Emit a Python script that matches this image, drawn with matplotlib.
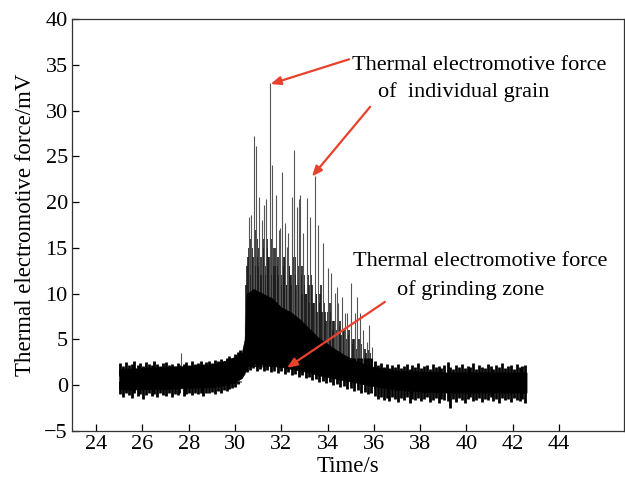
import numpy as np
import matplotlib.pyplot as plt

plt.rcParams['font.family'] = ['Liberation Serif', 'DejaVu Serif']

# 噪声带的包络
t_env = [25.0, 25.5, 26.0, 27.0, 28.0, 29.0, 29.5, 30.0, 30.3, 30.42, 30.5, 30.8,
         31.2, 31.6, 32.0, 32.4, 32.8, 33.2, 33.6, 34.0, 34.4, 34.8, 35.2, 35.6,
         36.0, 36.5, 37.0, 38.0, 39.0, 40.0, 41.0, 42.0, 42.6]
core_lo = [-0.4, -0.5, -0.4, -0.4, -0.3, -0.2, 0.0, 0.3, 0.8, 1.3, 2.0, 2.4,
           2.3, 2.2, 2.0, 1.8, 1.6, 1.4, 1.1, 0.9, 0.7, 0.5, 0.3, 0.1,
           -0.1, -0.3, -0.5, -0.7, -0.8, -0.8, -0.8, -0.8, -0.8]
core_hi = [1.8, 1.8, 1.9, 2.0, 2.1, 2.3, 2.6, 3.1, 3.6, 5.0, 10.0, 10.5,
           10.0, 9.5, 8.5, 8.0, 7.2, 6.2, 5.2, 4.5, 3.8, 3.2, 2.7, 2.3,
           2.0, 1.8, 1.6, 1.5, 1.4, 1.4, 1.4, 1.4, 1.4]

# 单颗磨粒的尖峰 (时间, 峰值)
spike_t = [30.44, 30.61, 30.70, 30.82, 30.91, 31.04, 31.17, 31.26, 31.34, 31.52,
           31.60, 31.78, 31.91, 31.95, 32.03, 32.16, 32.25, 32.29, 32.47, 32.55,
           32.68, 32.77, 32.81, 32.94, 33.11, 33.24, 33.46, 33.59, 33.81, 34.02,
           34.15, 34.32, 34.41, 34.45, 34.63, 34.76, 34.84, 35.02, 35.19, 35.27,
           35.40, 35.53, 35.71, 35.79, 35.92, 27.67, 39.21]
spike_v = [7.4, 18.4, 18.6, 27.2, 26.1, 20.6, 18.1, 19.7, 20.3, 33.0,
           24.1, 20.8, 17.0, 17.2, 23.3, 17.7, 15.1, 16.6, 20.6, 25.7,
           19.5, 20.3, 20.8, 16.6, 20.5, 18.4, 22.8, 17.5, 15.5, 12.8,
           12.3, 10.1, 10.7, 9.0, 9.6, 7.9, 7.9, 11.2, 7.9, 9.6,
           7.9, 6.0, 4.7, 6.6, 4.2, 3.5, 2.5]

# 密集的中等尖峰
mid_t = [30.47, 30.53, 30.55, 30.59, 30.64, 30.65, 30.68, 30.73, 30.75, 30.78,
         30.85, 30.87, 30.89, 30.94, 30.97, 31.00, 31.06, 31.08, 31.10, 31.12,
         31.15, 31.20, 31.22, 31.24, 31.29, 31.30, 31.37, 31.40, 31.42, 31.45,
         31.48, 31.55, 31.56, 31.63, 31.66, 31.68, 31.72, 31.75, 31.81, 31.85,
         31.87, 31.93, 31.98, 32.00, 32.06, 32.10, 32.13, 32.18, 32.20, 32.23,
         32.32, 32.35, 32.38, 32.42, 32.44, 32.51, 32.58, 32.60, 32.64, 32.71,
         32.73, 32.79, 32.85, 32.88, 32.91, 32.97, 33.00, 33.05, 33.08, 33.14,
         33.18, 33.21, 33.27, 33.30, 33.34, 33.38, 33.42, 33.49, 33.52, 33.56,
         33.62, 33.65, 33.69, 33.72, 33.77, 33.84, 33.90, 33.93, 34.00, 34.07,
         34.10, 34.13, 34.19, 34.22, 34.27, 34.35, 34.50, 34.55, 34.60, 34.68,
         34.70, 34.80, 34.90, 34.95, 35.05, 35.10, 35.15, 35.25, 35.35, 35.45,
         35.60, 35.65, 35.75, 35.85]
mid_v = [11, 13, 14, 15, 12, 12, 16, 13, 15, 14,
         12, 13, 17, 14, 16, 13, 15, 14, 12, 12,
         14, 16, 15, 13, 12, 13, 15, 16, 13, 14,
         14, 16, 12, 13, 15, 12, 13, 15, 13, 14,
         12, 14, 11, 12, 13, 14, 12, 14, 11, 11,
         13, 13, 12, 12, 11, 14, 12, 14, 11, 13,
         11, 10, 12, 13, 10, 11, 12, 10, 10, 12,
         11, 9, 10, 12, 11, 9, 9, 10, 10, 8,
         9, 9, 10, 11, 8, 9, 8, 7, 8, 7,
         9, 8, 6, 7, 7, 6, 6.5, 7, 5.5, 6,
         6, 5, 5.5, 6, 4.5, 5, 5, 4, 5, 4.5,
         4, 3.5, 3.8, 3.5]

# 基线噪声的毛刺 (上/下)
base1_t = [25.05, 25.17, 25.30, 25.42, 25.55, 25.66, 25.80, 25.91, 26.03, 26.15,
           26.28, 26.40, 26.52, 26.65, 26.77, 26.90, 27.02, 27.14, 27.27, 27.39,
           27.52, 27.60, 27.78, 27.90, 28.02, 28.15, 28.27, 28.40, 28.52, 28.64,
           28.77, 28.89, 29.02, 29.14, 29.27, 29.39, 29.51, 29.64, 29.76, 29.88,
           30.00, 30.12, 30.24]
base1_up = [2.4, 2.1, 2.5, 2.2, 2.3, 2.6, 2.2, 2.4, 2.1, 2.5,
            2.3, 2.2, 2.6, 2.3, 2.1, 2.4, 2.5, 2.2, 2.3, 2.1,
            2.4, 2.2, 2.3, 2.5, 2.2, 2.6, 2.3, 2.4, 2.7, 2.3,
            2.5, 2.6, 2.4, 2.8, 2.6, 2.9, 2.7, 3.0, 3.2, 3.0,
            3.4, 3.6, 3.9]
base1_dn = [-1.0, -1.3, -0.9, -1.1, -1.4, -0.9, -1.2, -1.0, -1.5, -1.1,
            -0.9, -1.2, -1.0, -1.3, -0.9, -1.1, -1.2, -0.9, -1.3, -1.0,
            -1.1, -0.9, -1.2, -1.0, -0.9, -1.1, -0.8, -1.0, -0.9, -1.2,
            -0.8, -0.9, -0.7, -1.0, -0.6, -0.8, -0.5, -0.6, -0.4, -0.3,
            -0.2, 0.1, 0.4]
base2_t = [36.05, 36.17, 36.30, 36.42, 36.55, 36.67, 36.80, 36.92, 37.05, 37.17,
           37.30, 37.42, 37.55, 37.67, 37.80, 37.92, 38.05, 38.17, 38.30, 38.42,
           38.55, 38.67, 38.80, 38.92, 39.05, 39.21, 39.30, 39.42, 39.55, 39.67,
           39.80, 39.92, 40.05, 40.17, 40.30, 40.42, 40.55, 40.67, 40.80, 40.92,
           41.05, 41.17, 41.30, 41.42, 41.55, 41.67, 41.80, 41.92, 42.05, 42.17,
           42.30, 42.42, 42.55]
base2_up = [2.6, 2.2, 2.4, 2.0, 2.3, 1.9, 2.2, 2.0, 2.3, 1.9,
            2.1, 2.3, 1.8, 2.2, 2.0, 2.4, 1.9, 2.1, 2.2, 1.8,
            2.3, 2.0, 2.1, 1.9, 2.2, 2.5, 2.0, 1.8, 2.2, 2.0,
            2.3, 1.9, 2.1, 2.0, 2.4, 1.8, 2.2, 2.0, 1.9, 2.3,
            2.1, 1.8, 2.2, 2.0, 2.4, 1.9, 2.1, 2.2, 1.8, 2.3,
            2.0, 2.1, 2.2]
base2_dn = [-1.2, -1.5, -1.3, -1.6, -1.4, -1.7, -1.3, -1.5, -1.8, -1.4,
            -1.6, -1.3, -1.9, -1.5, -1.6, -1.4, -1.7, -1.5, -1.3, -1.8,
            -1.6, -1.4, -1.9, -1.5, -1.6, -1.7, -2.5, -1.5, -1.8, -1.4,
            -1.6, -1.9, -1.5, -1.3, -1.7, -1.6, -1.4, -1.8, -1.5, -1.6,
            -1.3, -1.7, -1.5, -1.9, -1.4, -1.6, -1.5, -1.8, -1.4, -1.6,
            -1.7, -1.5, -1.9]
hump_t = [30.50, 30.65, 30.80, 30.95, 31.10, 31.25, 31.40, 31.55, 31.70, 31.85,
          32.00, 32.15, 32.30, 32.45, 32.60, 32.75, 32.90, 33.05, 33.20, 33.35,
          33.50, 33.65, 33.80, 33.95, 34.10, 34.25, 34.40, 34.55, 34.70, 34.85,
          35.00, 35.15, 35.30, 35.45, 35.60, 35.75, 35.90]
hump_dn = [1.4, 1.7, 1.9, 1.6, 1.8, 1.5, 1.7, 1.4, 1.6, 1.3,
           1.5, 1.2, 1.4, 1.1, 1.2, 0.9, 1.1, 0.8, 0.9, 0.6,
           0.7, 0.4, 0.5, 0.2, 0.3, 0.0, 0.1, -0.2, -0.1, -0.4,
           -0.3, -0.6, -0.5, -0.8, -0.7, -1.0, -0.9]

x_ticks = [24, 26, 28, 30, 32, 34, 36, 38, 40, 42, 44]
y_ticks = [-5, 0, 5, 10, 15, 20, 25, 30, 35, 40]

red = '#e8412c'

fig = plt.figure(figsize=(6.25, 4.84), dpi=100)
ax = fig.add_axes([0.1152, 0.1095, 0.8828, 0.8512])

# 毛刺和尖峰先画, 实心带盖在上面
ax.vlines(mid_t, 2, mid_v, color='#1a1a1a', lw=1.2, zorder=1)
ax.vlines(spike_t, 2, spike_v, color='#555555', lw=0.8, zorder=1)
ax.vlines(base1_t, 1, base1_up, color='black', lw=2.0, zorder=1)
ax.vlines(base1_t, 0.5, base1_dn, color='black', lw=2.0, zorder=1)
ax.vlines(base2_t, 0.5, base2_up, color='black', lw=2.0, zorder=1)
ax.vlines(base2_t, 0, base2_dn, color='black', lw=2.0, zorder=1)
ax.vlines(hump_t, 3, hump_dn, color='black', lw=2.0, zorder=1)
ax.fill_between(t_env, core_lo, core_hi, color='black', lw=0.5, zorder=2)

ax.set_xlim(22.96, 46.8)
ax.set_ylim(-5, 40)
ax.set_xticks(x_ticks)
ax.set_yticks(y_ticks)
ax.tick_params(direction='in', length=5, width=0.9, labelsize=16, pad=3)
for s in ax.spines.values():
    s.set_linewidth(0.9)
    s.set_color('#333333')
ax.set_xlabel('Time/s', fontsize=16.5, labelpad=1)
ax.set_ylabel('Thermal electromotive force/mV', fontsize=16.5, labelpad=6)

fs = 16
ax.text(40.55, 34.9, 'Thermal electromotive force', ha='center', va='center', fontsize=fs)
ax.text(39.9, 32.0, 'of  individual grain', ha='center', va='center', fontsize=fs)
ax.text(40.6, 13.5, 'Thermal electromotive force', ha='center', va='center', fontsize=fs)
ax.text(40.2, 10.4, 'of grinding zone', ha='center', va='center', fontsize=fs)

arw = dict(arrowstyle='-|>,head_length=0.6,head_width=0.25', color=red, lw=1.6,
           shrinkA=0, shrinkB=0)
ax.annotate('', xy=(31.54, 32.9), xytext=(34.93, 35.6), arrowprops=arw, zorder=3)
ax.annotate('', xy=(33.33, 22.8), xytext=(35.84, 30.4), arrowprops=arw, zorder=3)
ax.annotate('', xy=(32.25, 1.9), xytext=(36.48, 9.1), arrowprops=arw, zorder=3)

fig.savefig('out.png', dpi=100)
